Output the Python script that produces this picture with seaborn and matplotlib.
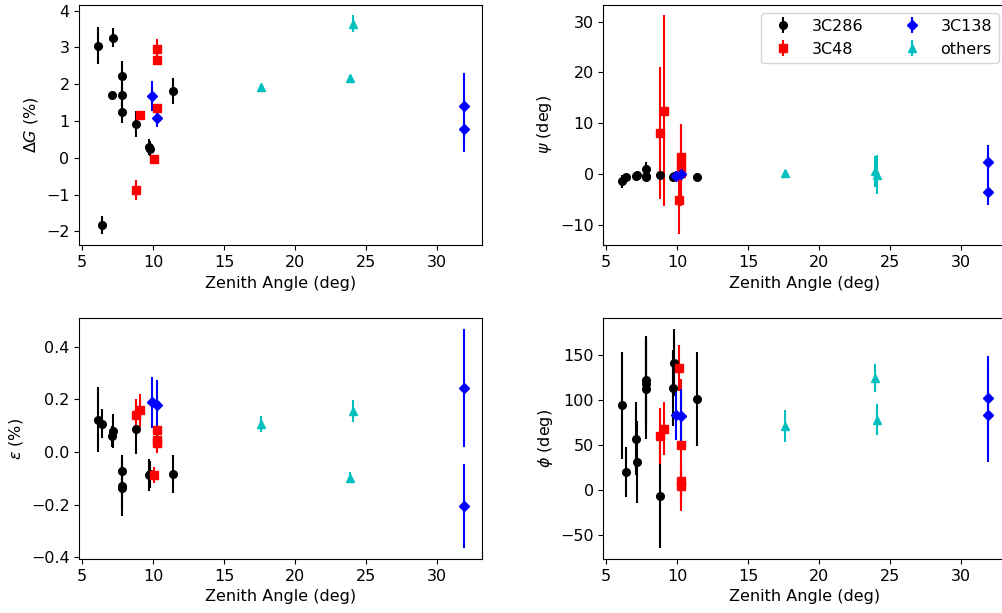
import pandas as pd
import seaborn as sns
import matplotlib.pyplot as plt

# zenith angles per source (deg)
x_3c286 = [6.1, 6.4, 7.1, 7.2, 7.8, 7.8, 7.8, 8.8, 9.7, 9.8, 11.4]
x_3c48 = [8.8, 9.1, 10.1, 10.3, 10.3, 10.3]
x_3c138 = [9.9, 10.3, 31.9, 31.9]
x_others = [17.6, 23.9, 24.1]

# Delta G (%)
dg_3c286 = [3.05, -1.83, 1.70, 3.27, 2.22, 1.72, 1.25, 0.92, 0.30, 0.25, 1.81]
dg_3c286_err = [0.50, 0.25, 0.08, 0.26, 0.42, 0.30, 0.30, 0.34, 0.22, 0.20, 0.35]
dg_3c48 = [-0.88, 1.16, -0.02, 2.97, 2.66, 1.36]
dg_3c48_err = [0.27, 0.06, 0.05, 0.26, 0.10, 0.08]
dg_3c138 = [1.68, 1.09, 1.40, 0.78]
dg_3c138_err = [0.40, 0.26, 0.90, 0.63]
dg_others = [1.93, 2.18, 3.65]
dg_others_err = [0.08, 0.08, 0.22]

# psi (deg)
psi_3c286 = [-1.4, -0.6, -0.3, -0.2, 1.1, -0.3, -0.6, -0.2, -0.45, -0.3, -0.6]
psi_3c286_err = [1.3, 0.6, 0.4, 0.4, 1.4, 0.8, 0.6, 0.5, 0.5, 0.5, 0.6]
psi_3c48 = [8.1, 12.5, -5.0, 3.3, 1.8, 0.2]
psi_3c48_err = [13.0, 18.7, 6.8, 6.6, 8.0, 1.0]
psi_3c138 = [-0.35, 0.1, 2.4, -3.5]
psi_3c138_err = [1.0, 0.8, 3.4, 2.5]
psi_others = [0.2, 0.6, -0.1]
psi_others_err = [0.5, 3.0, 3.8]

# epsilon (%)
eps_3c286 = [0.123, 0.107, 0.060, 0.080, -0.072, -0.128, -0.135, 0.088, -0.087, -0.085, -0.082]
eps_3c286_err = [0.124, 0.055, 0.040, 0.065, 0.06, 0.08, 0.11, 0.095, 0.062, 0.05, 0.072]
eps_3c48 = [0.142, 0.158, -0.087, 0.083, 0.045, 0.035]
eps_3c48_err = [0.06, 0.063, 0.03, 0.03, 0.05, 0.04]
eps_3c138 = [0.19, 0.177, 0.243, -0.205]
eps_3c138_err = [0.097, 0.095, 0.224, 0.16]
eps_others = [0.107, -0.097, 0.157]
eps_others_err = [0.03, 0.02, 0.042]

# phi (deg)
phi_3c286 = [94, 20, 57, 31, 122, 117, 112, -6, 113, 141, 101]
phi_3c286_err = [59, 28, 40, 45, 48, 50, 55, 58, 42, 37, 52]
phi_3c48 = [60, 68, 135, 50, 10, 5]
phi_3c48_err = [31, 29, 25, 73, 22, 25]
phi_3c138 = [83, 82, 102, 83]
phi_3c138_err = [28, 30, 46, 52]
phi_others = [71, 124, 78]
phi_others_err = [18, 15, 17]

labels = ["3C286", "3C48", "3C138", "others"]
fmts = {"3C286": "ko", "3C48": "rs", "3C138": "bD", "others": "c^"}

frames = []
for lab, xs, dg, dge, ps, pse, ep, epe, ph, phe in [
    ("3C286", x_3c286, dg_3c286, dg_3c286_err, psi_3c286, psi_3c286_err,
     eps_3c286, eps_3c286_err, phi_3c286, phi_3c286_err),
    ("3C48", x_3c48, dg_3c48, dg_3c48_err, psi_3c48, psi_3c48_err,
     eps_3c48, eps_3c48_err, phi_3c48, phi_3c48_err),
    ("3C138", x_3c138, dg_3c138, dg_3c138_err, psi_3c138, psi_3c138_err,
     eps_3c138, eps_3c138_err, phi_3c138, phi_3c138_err),
    ("others", x_others, dg_others, dg_others_err, psi_others, psi_others_err,
     eps_others, eps_others_err, phi_others, phi_others_err),
]:
    frames.append(pd.DataFrame({
        "source": lab, "za": xs,
        "dG": dg, "dG_err": dge, "psi": ps, "psi_err": pse,
        "eps": ep, "eps_err": epe, "phi": ph, "phi_err": phe,
    }))
df = pd.concat(frames, ignore_index=True)

sns.set_style("ticks", {
    "axes.edgecolor": "black", "xtick.color": "black", "ytick.color": "black",
    "text.color": "black", "axes.labelcolor": "black",
})
plt.rcParams["font.family"] = ["DejaVu Sans"]
plt.rcParams["font.size"] = 11.5

fig, axes = plt.subplots(2, 2, figsize=(10.02, 6.13), dpi=100)
fig.subplots_adjust(left=0.0791, right=1.0045, bottom=0.0881, top=0.9926,
                    wspace=0.3007, hspace=0.303)

panels = [
    (axes[0, 0], "dG", r"$\Delta G$ (%)"),
    (axes[0, 1], "psi", r"$\psi$ (deg)"),
    (axes[1, 0], "eps", r"$\varepsilon$ (%)"),
    (axes[1, 1], "phi", r"$\phi$ (deg)"),
]

for ax, col, ylab in panels:
    for lab in labels:
        sub = df[df["source"] == lab]
        ax.errorbar(sub["za"], sub[col], yerr=sub[col + "_err"],
                    fmt=fmts[lab], markersize=5.5, label=lab)
    ax.set_xlabel("Zenith Angle (deg)")
    ax.set_ylabel(ylab)
    ax.set_xticks([5, 10, 15, 20, 25, 30])

axes[0, 1].legend(loc="upper right", ncol=2)

plt.savefig("out.png", dpi=100)
